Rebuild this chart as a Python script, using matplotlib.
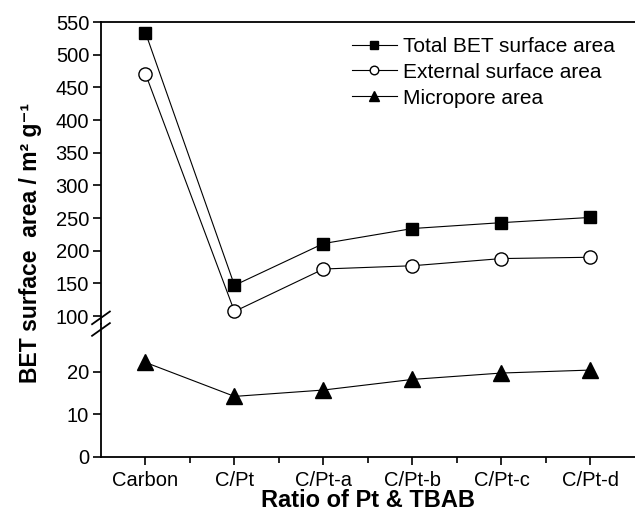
import numpy as np
import matplotlib
matplotlib.use("Agg")
import matplotlib.pyplot as plt

plt.rcParams['font.family'] = ['Liberation Sans', 'DejaVu Sans']

# ---- data ----
samples = ['Carbon', 'C/Pt', 'C/Pt-a', 'C/Pt-b', 'C/Pt-c', 'C/Pt-d']
total_bet = [534, 147, 211, 234, 243, 251]
external = [471, 107, 172, 177, 188, 190]
micropore = [22.2, 14.2, 15.7, 18.2, 19.7, 20.4]

x = np.arange(len(samples))

fig = plt.figure(figsize=(6.35, 5.28), dpi=100)
L, R, B, T, M = 0.159, 1.0, 0.135, 0.958, 0.386
ax_top = fig.add_axes([L, M, R - L, T - M])
ax_bot = fig.add_axes([L, B, R - L, M - B], sharex=ax_top)

lw = 0.8
ax_top.plot(x, total_bet, '-', color='black', lw=lw, marker='s', ms=8.5,
            mfc='black', mec='black', label='Total BET surface area')
ax_top.plot(x, external, '-', color='black', lw=lw, marker='o', ms=9.5,
            mfc='white', mec='black', mew=1.0, label='External surface area')
ax_bot.plot(x, micropore, '-', color='black', lw=lw, marker='^', ms=12,
            mfc='black', mec='black', label='Micropore area')

ax_top.set_ylim(87.5, 550)
ax_bot.set_ylim(0, 31.2)
ax_top.set_xlim(-0.5, 5.5)
ax_top.set_yticks(np.arange(100, 551, 50))
ax_bot.set_yticks([0, 10, 20])

for ax in (ax_top, ax_bot):
    ax.spines['right'].set_visible(False)
    ax.tick_params(direction='out', length=6, width=1.2, labelsize=14.5, pad=2.5)
    for s in ax.spines.values():
        s.set_linewidth(1.3)

ax_top.spines['bottom'].set_visible(False)
ax_bot.spines['top'].set_visible(False)
ax_top.tick_params(axis='x', which='both', bottom=False, labelbottom=False)

ax_bot.set_xticks(x)
ax_bot.set_xticklabels(samples)
ax_bot.set_xticks(x[:-1] + 0.5, minor=True)
ax_bot.tick_params(axis='x', which='minor', direction='out', length=4, width=1.2)
ax_bot.tick_params(axis='x', pad=4)

# break marks on the left spine
kw = dict(color='black', lw=1.3, clip_on=False, transform=fig.transFigure)
for dy in (0.012, -0.010):
    fig.add_artist(plt.Line2D([L - 0.014, L + 0.014],
                              [M + dy - 0.012, M + dy + 0.012], **kw))

# legend
handles = ax_top.get_legend_handles_labels()[0] + ax_bot.get_legend_handles_labels()[0]
labels = [h.get_label() for h in handles]
fig.legend(handles, labels, loc='upper left', bbox_to_anchor=(0.538, 0.95),
           frameon=False, fontsize=15, markerscale=0.65, handlelength=2.15,
           handletextpad=0.3, labelspacing=0.33, borderpad=0)

fig.text(0.048, 0.54, 'BET surface  area / m² g⁻¹', rotation=90,
         ha='center', va='center', fontsize=16.5, fontweight='bold')
fig.text((L + R) / 2, 0.053, 'Ratio of Pt & TBAB', ha='center', va='center',
         fontsize=17, fontweight='bold')

fig.savefig('out.png', dpi=100)
